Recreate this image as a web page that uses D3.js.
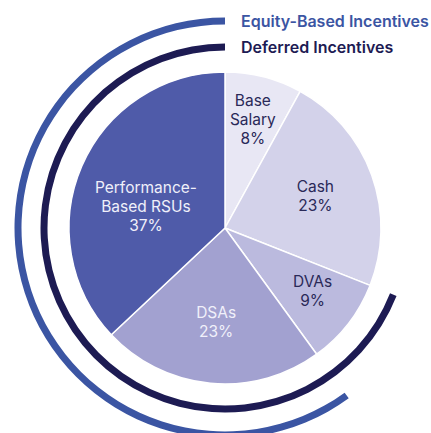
<!DOCTYPE html>
<html>
<meta charset="utf-8">
<head>
<title>Compensation mix</title>
<script src="https://cdnjs.cloudflare.com/ajax/libs/d3/7.8.5/d3.min.js"></script>
<style>
    body { margin: 0; background: #fff; }
    text { font-family: Inter, "Noto Sans", sans-serif; }
</style>
</head>

<body>
<script>

const width = 431,
    height = 433;

// Pie data (clockwise from 12 o'clock)
const categories = ["Base Salary", "Cash", "DVAs", "DSAs", "Performance-Based RSUs"];
const shares = [8, 23, 9, 23, 37];
const labelLines = [["Base", "Salary"], ["Cash"], ["DVAs"], ["DSAs"], ["Performance-", "Based RSUs"]];

// Bracket arcs round the pie
const groupNames = ["Equity-Based Incentives", "Deferred Incentives"];
const groupMembers = [
    ["DSAs", "Performance-Based RSUs"],
    ["DVAs", "DSAs", "Performance-Based RSUs"]
];

const sliceColours = ["#e8e7f4", "#d3d2ea", "#bbbade", "#a2a1d0", "#4f5ba9"];
const textColours = ["#2a2958", "#2a2958", "#2a2958", "#f0f0fa", "#f0f0fa"];
const groupColours = ["#3b55a3", "#1d1b53"];
const groupRadius = [207, 181];
// radius of each label's centre, and a small angle nudge (degrees)
const labelRadius = [112, 96, 108, 94, 82];
const labelNudge = [0, 0, -2, 0, -8];

const cx = 225, cy = 228, radius = 156;

const svg = d3.select("body")
    .append("svg")
    .attr("width", width)
    .attr("height", height);

const g = svg.append("g")
    .attr("transform", `translate(${cx},${cy})`);

const pie = d3.pie().sort(null).value(d => d.share);
const data = categories.map((c, i) => ({category: c, share: shares[i], lines: labelLines[i], i: i}));
const arcs = pie(data);

const arc = d3.arc().innerRadius(0).outerRadius(radius);

g.selectAll("path.slice")
    .data(arcs)
    .enter()
    .append("path")
    .attr("class", "slice")
    .attr("d", arc)
    .attr("fill", d => sliceColours[d.data.i])
    .attr("stroke", "#fff")
    .attr("stroke-width", 1.5)
    .attr("stroke-linejoin", "round");

// Slice labels
const lineHeight = 19;
const labels = g.selectAll("text.label")
    .data(arcs)
    .enter()
    .append("text")
    .attr("class", "label")
    .attr("text-anchor", "middle")
    .attr("font-size", "15.5px")
    .attr("fill", d => textColours[d.data.i])
    .attr("transform", d => {
        const i = d.data.i;
        const a = (d.startAngle + d.endAngle) / 2 + labelNudge[i] * Math.PI / 180;
        const r = labelRadius[i];
        return `translate(${r * Math.sin(a)},${-r * Math.cos(a)})`;
    });

labels.each(function(d) {
    const lines = d.data.lines.concat([d.data.share + "%"]);
    const t = d3.select(this);
    const top = -(lines.length - 1) * lineHeight / 2;
    lines.forEach((l, k) => {
        t.append("tspan")
            .attr("x", 0)
            .attr("y", top + k * lineHeight)
            .attr("dy", "0.36em")
            .text(l);
    });
});

// Bracket arcs for the incentive groups
const groupArcs = groupMembers.map((members, i) => {
    const parts = arcs.filter(a => members.includes(a.data.category));
    return {
        name: groupNames[i],
        i: i,
        startAngle: d3.min(parts, p => p.startAngle) - 2 * Math.PI,
        endAngle: d3.max(parts, p => p.endAngle) - 2 * Math.PI
    };
});

g.selectAll("path.group")
    .data(groupArcs)
    .enter()
    .append("path")
    .attr("class", "group")
    .attr("d", d => d3.arc()
        .innerRadius(groupRadius[d.i] - 3.5)
        .outerRadius(groupRadius[d.i] + 3.5)
        .startAngle(d.startAngle)
        .endAngle(d.endAngle)())
    .attr("fill", d => groupColours[d.i]);

// Legend text beside the arc ends
g.selectAll("text.group")
    .data(groupArcs)
    .enter()
    .append("text")
    .attr("class", "group")
    .attr("x", 16)
    .attr("y", d => -groupRadius[d.i])
    .attr("dy", "0.36em")
    .attr("font-size", "16px")
    .attr("font-weight", 600)
    .attr("fill", d => groupColours[d.i])
    .text(d => d.name);

</script>

</body>
</html>
